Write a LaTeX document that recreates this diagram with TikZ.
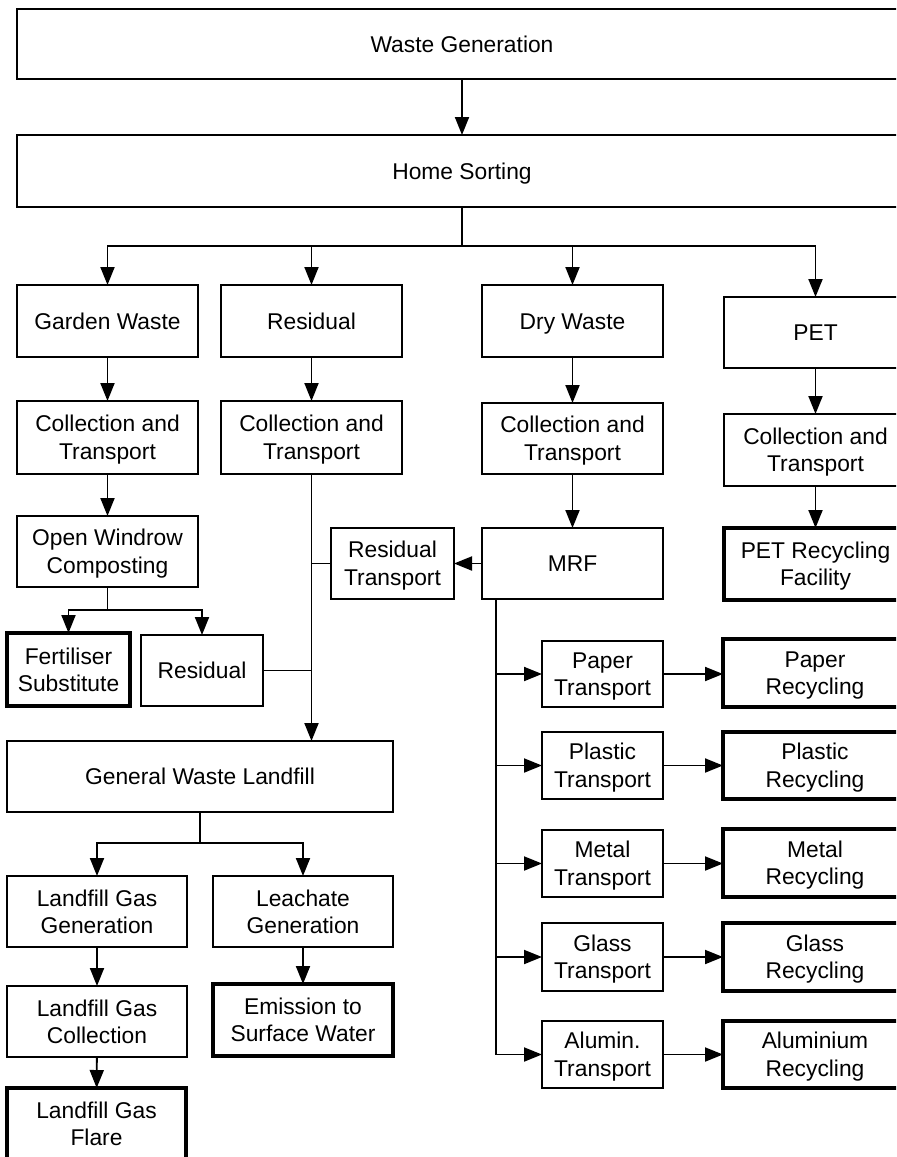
\documentclass[tikz,border=0pt]{standalone}
\usepackage{fontspec}
\setmainfont{Liberation Sans}
\usetikzlibrary{arrows.meta}

% invisible rules that balance the first and last text line around the capitals
\newcommand\tup{\rule{0pt}{10.5pt}}
\newcommand\tdn{\rule[-2.3pt]{0pt}{2.3pt}}

% \wbox{style}{name}{x1}{y1}{x2}{y2}{text}: box given by its corners (1 unit = 0.5pt, y grows downwards)
\newcommand\wbox[7]{%
  \node[#1,minimum width={(#5-#3)*0.5pt},minimum height={(#6-#4)*0.5pt}]
    (#2) at ({(#3+#5)/2},{(#4+#6)/2}) {\tup#7\tdn};}

\begin{document}
\begin{tikzpicture}[x=0.5pt,y=-0.5pt,
  box/.style={draw,line width=0.85pt,inner sep=0pt,outer sep=0pt,align=center,
    font=\fontsize{11.4}{13.7}\selectfont},
  endbox/.style={box,line width=1.7pt},
  link/.style={line width=0.95pt},
  flow/.style={link,-{Triangle[length=9pt,width=7pt]}}]

\useasboundingbox (0,0) rectangle (896,1157);
\clip (0,0) rectangle (896,1157);

% top stages
\wbox{box}{wg}{17}{9}{907}{79}{Waste Generation}
\wbox{box}{hs}{17}{135}{907}{207}{Home Sorting}

% four waste streams
\wbox{box}{garden}{17}{285}{198}{357}{Garden Waste}
\wbox{box}{resid}{221}{285}{402}{357}{Residual}
\wbox{box}{dry}{482}{285}{663}{357}{Dry Waste}
\wbox{box}{pet}{724}{297}{907}{368}{PET}

\wbox{box}{cg}{17}{401}{198}{474}{Collection and\\Transport}
\wbox{box}{cr}{221}{401}{402}{474}{Collection and\\Transport}
\wbox{box}{cd}{482}{403}{663}{474}{Collection and\\Transport}
\wbox{box}{cp}{724}{414}{907}{486}{Collection and\\Transport}

\wbox{box}{owc}{17}{516}{198}{587}{Open Windrow\\Composting}
\wbox{box}{rt}{331}{528}{454}{599}{Residual\\Transport}
\wbox{box}{mrf}{482}{528}{663}{599}{MRF}
\wbox{endbox}{petr}{724}{528}{907}{600}{PET Recycling\\Facility}

\wbox{endbox}{fert}{7}{633}{130}{706}{Fertiliser\\Substitute}
\wbox{box}{res2}{141}{635}{263}{706}{Residual}

% landfill branch
\wbox{box}{gwl}{7}{741}{393}{812}{General Waste Landfill}
\wbox{box}{lfgg}{7}{876}{187}{947}{Landfill Gas\\Generation}
\wbox{box}{leach}{213}{876}{393}{947}{Leachate\\Generation}
\wbox{box}{lfgc}{7}{986}{187}{1057}{Landfill Gas\\Collection}
\wbox{endbox}{emis}{213}{984}{393}{1056}{Emission to\\Surface Water}
\wbox{endbox}{flare}{7}{1088}{186}{1159}{Landfill Gas\\Flare}

% MRF outputs
\wbox{box}{papT}{542}{641}{663}{707}{Paper\\Transport}
\wbox{box}{plaT}{542}{732}{663}{799}{Plastic\\Transport}
\wbox{box}{metT}{542}{830}{663}{897}{Metal\\Transport}
\wbox{box}{glaT}{542}{923}{663}{991}{Glass\\Transport}
\wbox{box}{aluT}{542}{1021}{663}{1088}{Alumin.\\Transport}

\wbox{endbox}{papR}{723}{639}{907}{707}{Paper\\Recycling}
\wbox{endbox}{plaR}{723}{732}{907}{799}{Plastic\\Recycling}
\wbox{endbox}{metR}{723}{829}{907}{897}{Metal\\Recycling}
\wbox{endbox}{glaR}{723}{923}{907}{991}{Glass\\Recycling}
\wbox{endbox}{aluR}{723}{1021}{907}{1088}{Aluminium\\Recycling}

% junction points
\coordinate (hsSplit) at (462,246);
\coordinate (owcSplit) at (107.5,610);
\coordinate (gwlSplit) at (200,843);
\coordinate (mrfTop) at (496,599);
\coordinate (mrfEnd) at (496,1055);

% connectors
\draw[flow] (wg.south -| hsSplit) -- (hs.north -| hsSplit);
\draw[link] (hs.south -| hsSplit) -- (hsSplit);
\draw[flow] (hsSplit) -| (garden.north);
\draw[flow] (hsSplit) -| (resid.north);
\draw[flow] (hsSplit) -| (dry.north);
\draw[flow] (hsSplit) -| (pet.north);

\draw[flow] (garden) -- (cg);
\draw[flow] (cg) -- (owc);
\draw[link] (owc.south) -- (owcSplit);
\draw[flow] (owcSplit) -| (fert.north);
\draw[flow] (owcSplit) -| (res2.north);

\draw[flow] (resid) -- (cr);
\draw[flow] (cr.south) -- (cr.south |- gwl.north);
\draw[link] (rt.west) -- (rt.west -| cr.south);
\draw[link] (res2.east) -- (res2.east -| cr.south);

\draw[flow] (dry) -- (cd);
\draw[flow] (cd) -- (mrf);
\draw[flow] (mrf.west) -- (rt.east);

\draw[flow] (pet) -- (cp);
\draw[flow] (cp) -- (petr);

\draw[link] (mrfTop) -- (mrfEnd);
\foreach \t/\r in {papT/papR,plaT/plaR,metT/metR,glaT/glaR,aluT/aluR}{
  \draw[flow] (mrfTop |- \t.west) -- (\t.west);
  \draw[flow] (\t.east) -- (\t.east -| \r.west);
}

\draw[link] (gwl.south) -- (gwlSplit);
\draw[flow] (gwlSplit) -| (lfgg.north);
\draw[flow] (gwlSplit) -| (leach.north);
\draw[flow] (lfgg) -- (lfgc);
\draw[flow] (lfgc) -- (flare);
\draw[flow] (leach) -- (emis);

\end{tikzpicture}
\end{document}
